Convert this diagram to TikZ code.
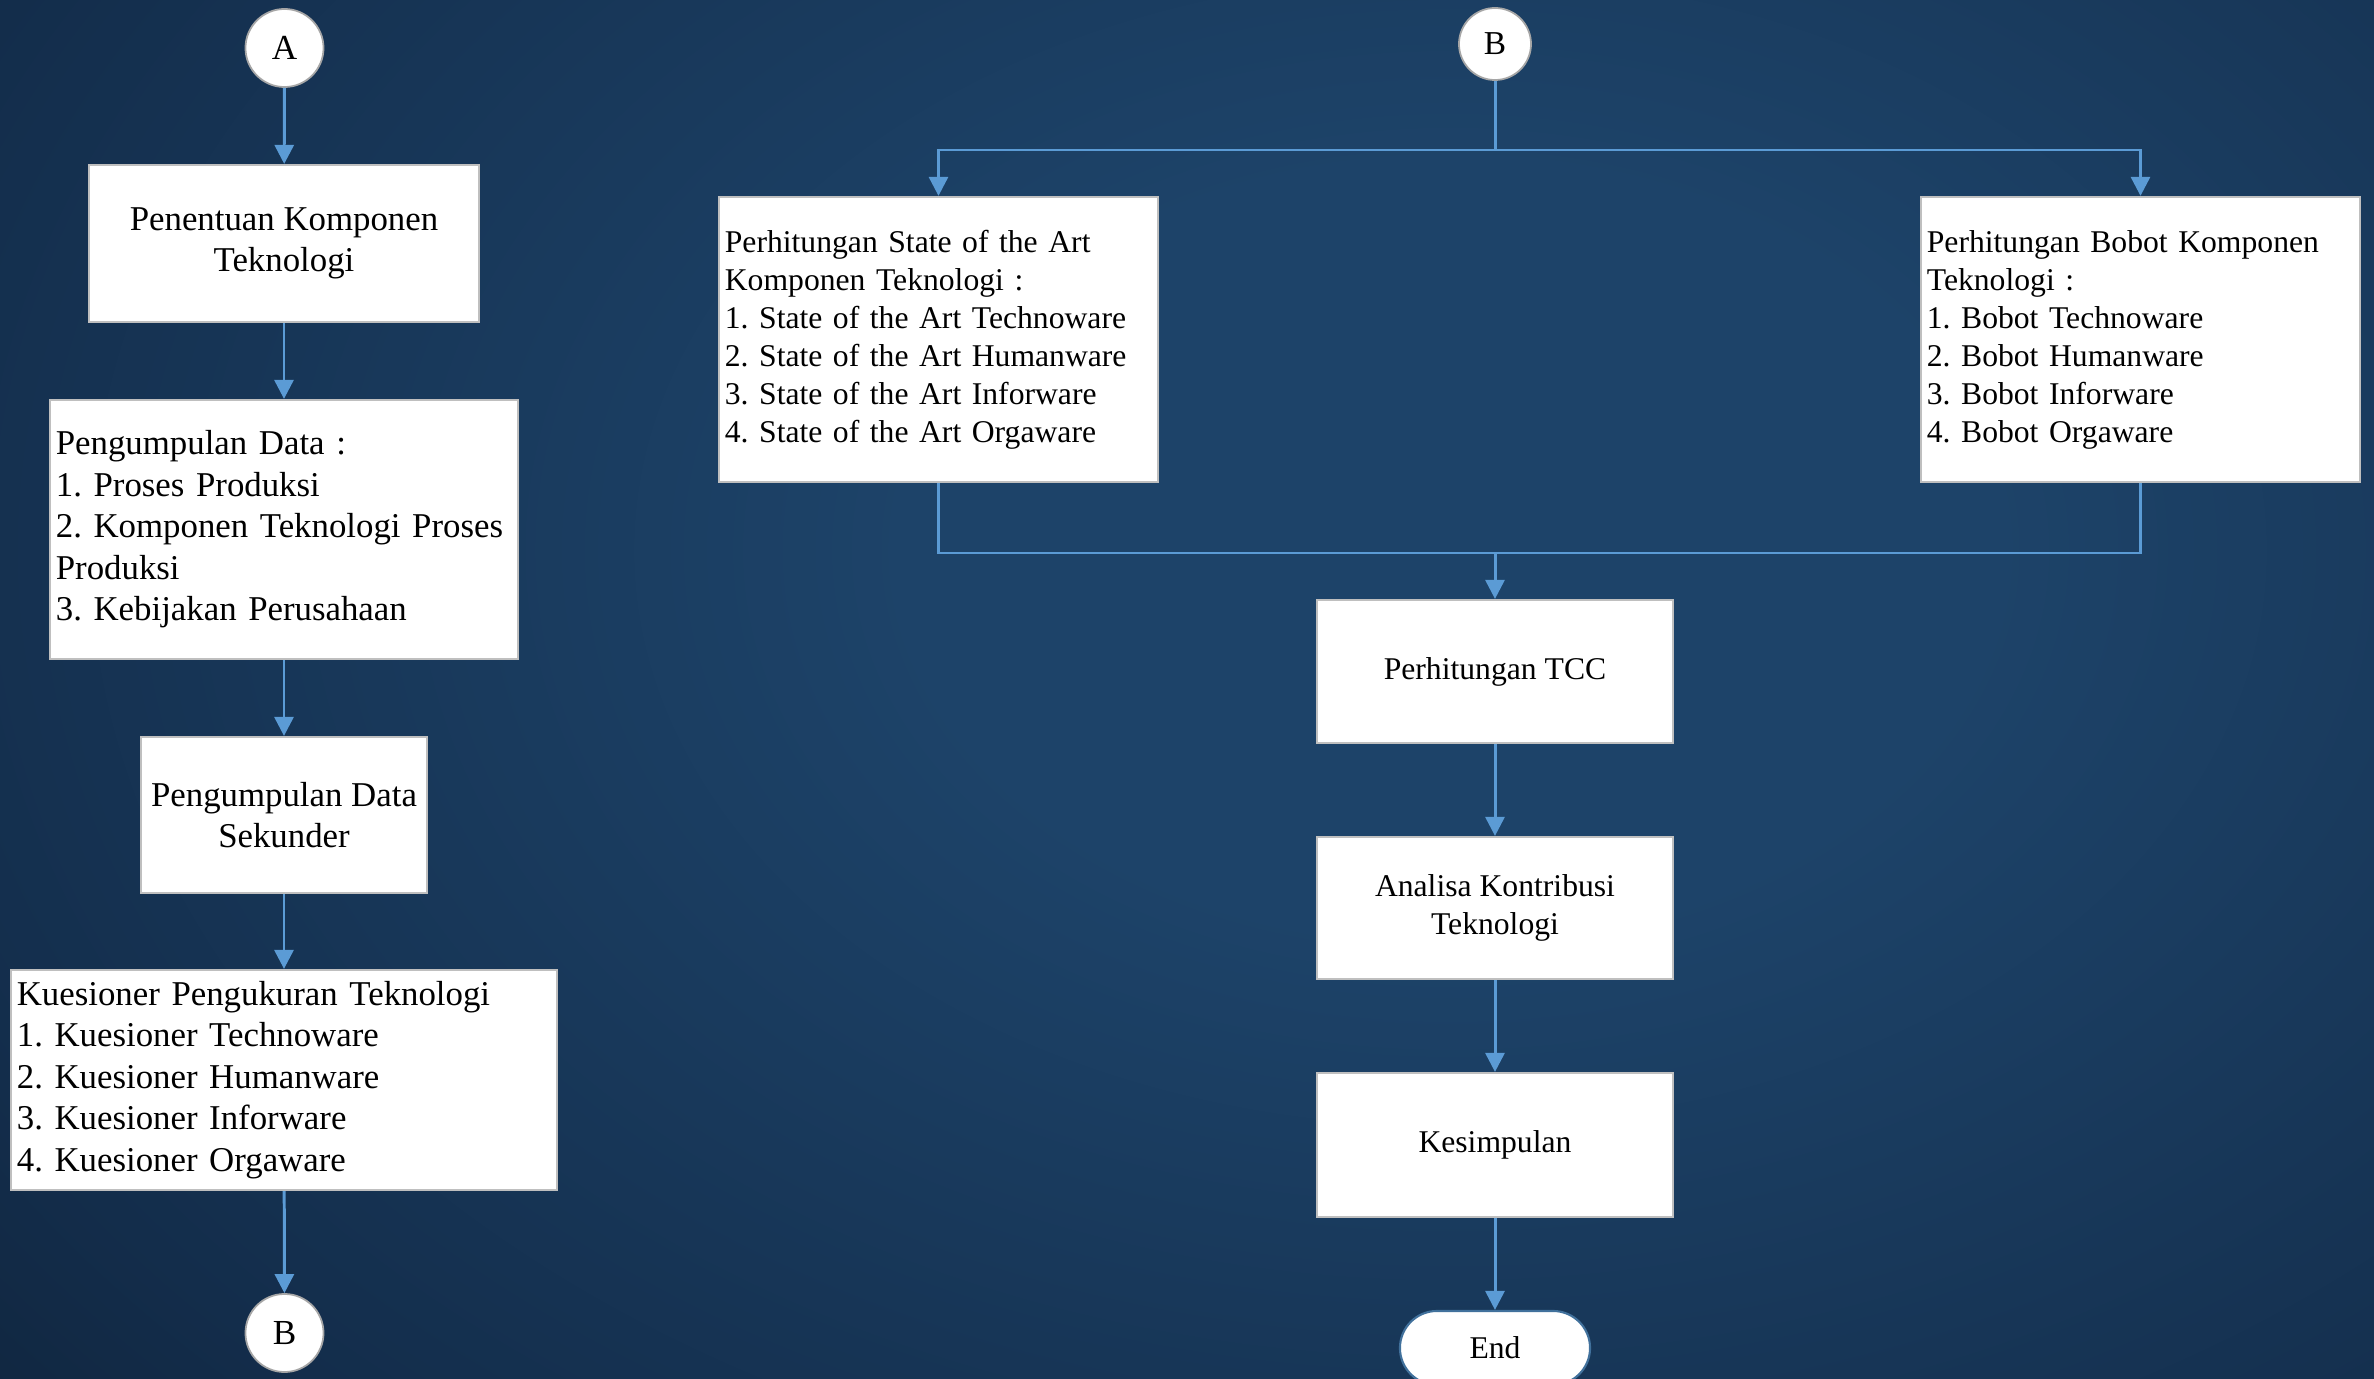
\documentclass[tikz,border=0pt]{standalone}
\usepackage{fontspec}
\setmainfont{Liberation Serif}
\frenchspacing
\usetikzlibrary{arrows.meta,shapes.misc}
\definecolor{bgA}{HTML}{1D4369}
\definecolor{bgB}{HTML}{132D4B}
\definecolor{bgC}{HTML}{09131F}
\definecolor{arrowblue}{HTML}{5B9BD5}
\definecolor{boxgray}{HTML}{BFBFBF}
\definecolor{circgray}{HTML}{A6A6A6}
\definecolor{endblue}{HTML}{41719C}
\pgfdeclareradialshading{vignette}{\pgfpoint{0bp}{0bp}}{color(0bp)=(bgA); color(8bp)=(bgA); color(24bp)=(bgB); color(40bp)=(bgC); color(50bp)=(bgC)}
\tikzset{
  flowbox/.style={rectangle, draw=boxgray, line width=0.6pt, fill=white, inner sep=0pt, inner xsep=0.06cm,
    font=\fontsize{9.9}{11.8}\selectfont},
  rflowbox/.style={flowbox, font=\fontsize{9}{10.8}\selectfont},
  conn/.style={draw=arrowblue, line width=0.85pt},
  arr/.style={conn, -{Triangle[width=0.19cm,length=0.19cm]}},
  connector/.style={circle, draw=circgray, fill=white, line width=0.5pt, inner sep=0pt,
    font=\fontsize{10}{12}\selectfont},
  terminal/.style={rectangle, rounded corners=0.37cm, draw=endblue, fill=white, line width=0.6pt,
    minimum width=1.9cm, minimum height=0.74cm, inner sep=0pt, font=\fontsize{9}{10.8}\selectfont}
}
\begin{document}
\begin{tikzpicture}[x=0.01cm, y=-0.01cm]
\useasboundingbox (0,0) rectangle (2374,1379);
\begin{scope}
\clip (0,0) rectangle (2374,1379);
\shade[shading=vignette] (-250,-650) rectangle (3150,1750);

% left column
\node[connector, minimum size=0.78cm] (A) at (284.5,48) {A};
\node[flowbox, minimum width=3.9cm, minimum height=1.57cm, align=center] (n1) at (284,243.5)
  {Penentuan Komponen\\Teknologi};
\node[flowbox, minimum width=4.68cm, minimum height=2.59cm, text width=4.56cm, align=left] (n2) at (284,529.5)
  {Pengumpulan Data :\\1. Proses Produksi\\2. Komponen Teknologi Proses\\Produksi\\3. Kebijakan Perusahaan};
\node[flowbox, minimum width=2.86cm, minimum height=1.56cm, align=center] (n3) at (284,815)
  {Pengumpulan Data\\Sekunder};
\node[flowbox, minimum width=5.46cm, minimum height=2.2cm, text width=5.34cm, align=left] (n4) at (284,1080)
  {Kuesioner Pengukuran Teknologi\\1. Kuesioner Technoware\\2. Kuesioner Humanware\\3. Kuesioner Inforware\\4. Kuesioner Orgaware};
\node[connector, minimum size=0.78cm] (Bb) at (284.5,1333) {B};

\draw[arr] (A) -- (n1);
\draw[arr] (n1) -- (n2);
\draw[arr] (n2) -- (n3);
\draw[arr] (n3) -- (n4);
\draw[arr] (n4) -- (Bb);

% right part
\node[connector, minimum size=0.72cm, font=\fontsize{9.5}{11}\selectfont] (Bt) at (1495,44) {B};
\node[rflowbox, minimum width=4.39cm, minimum height=2.85cm, text width=4.27cm, align=left] (sota) at (938.5,339.5)
  {Perhitungan State of the Art\\Komponen Teknologi :\\1. State of the Art Technoware\\2. State of the Art Humanware\\3. State of the Art Inforware\\4. State of the Art Orgaware};
\node[rflowbox, minimum width=4.39cm, minimum height=2.85cm, text width=4.27cm, align=left] (bobot) at (2140.5,339.5)
  {Perhitungan Bobot Komponen\\Teknologi :\\1. Bobot Technoware\\2. Bobot Humanware\\3. Bobot Inforware\\4. Bobot Orgaware};
\node[rflowbox, minimum width=3.56cm, minimum height=1.43cm, align=center] (tcc) at (1495,671.5)
  {Perhitungan TCC};
\node[rflowbox, minimum width=3.56cm, minimum height=1.42cm, align=center] (ana) at (1495,908)
  {Analisa Kontribusi\\Teknologi};
\node[rflowbox, minimum width=3.56cm, minimum height=1.44cm, align=center] (kes) at (1495,1145)
  {Kesimpulan};
\node[terminal] (end) at (1495,1348) {End};

\coordinate (split) at (1495,150);
\coordinate (merge) at (1495,553);
\draw[conn] (Bt) -- (split);
\draw[arr] (split) -| (sota.north);
\draw[arr] (split) -| (bobot.north);
\draw[conn] (sota.south) |- (merge);
\draw[conn] (bobot.south) |- (merge);
\draw[arr] (merge) -- (tcc);
\draw[arr] (tcc) -- (ana);
\draw[arr] (ana) -- (kes);
\draw[arr] (kes) -- (end);
\end{scope}
\end{tikzpicture}
\end{document}
